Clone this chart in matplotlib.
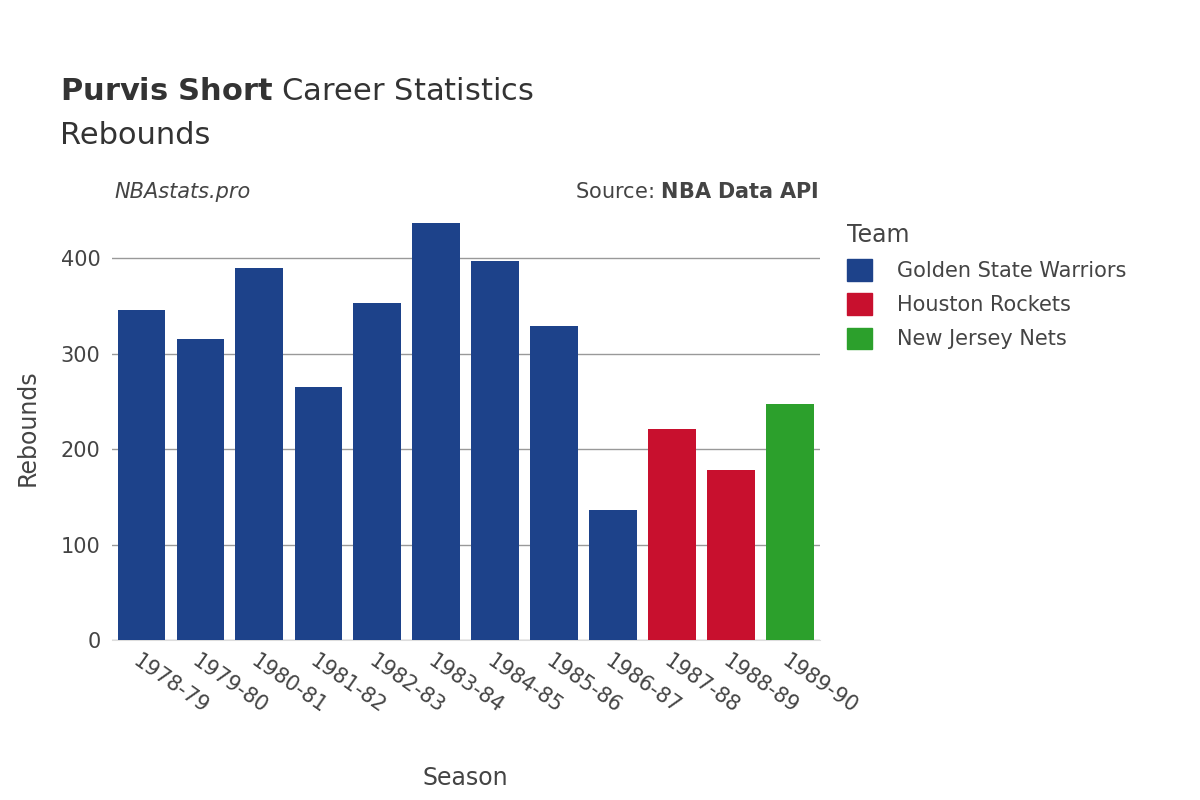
import matplotlib
matplotlib.use("Agg")
import matplotlib.pyplot as plt
from matplotlib.patches import Patch

seasons = ["1978-79","1979-80","1980-81","1981-82","1982-83","1983-84","1984-85","1985-86","1986-87","1987-88","1988-89","1989-90"]
rebounds = [346, 315, 390, 265, 353, 437, 397, 329, 136, 221, 178, 247]
teams = ["Golden State Warriors"]*9 + ["Houston Rockets"]*2 + ["New Jersey Nets"]
team_colors = {"Golden State Warriors": "#1d428a", "Houston Rockets": "#c8102e", "New Jersey Nets": "#2ca02c"}

plt.rcParams["font.family"] = "DejaVu Sans"
fig = plt.figure(figsize=(12, 8), dpi=100)
ax = fig.add_axes([0.093, 0.2, 0.59, 0.531])
x = range(len(seasons))
ax.bar(x, rebounds, width=0.8, color=[team_colors[t] for t in teams], zorder=3)
ax.set_xlim(-0.5, len(seasons) - 0.5)
ax.set_ylim(0, 445)
ax.set_yticks([0, 100, 200, 300, 400])
ax.tick_params(axis="y", labelsize=15, colors="#444444", length=0, pad=8)
ax.set_xticks(list(x))
ax.set_xticklabels(seasons, rotation=-35, ha="left", rotation_mode="anchor", fontsize=15, color="#444444")
ax.tick_params(axis="x", length=0, pad=8)
ax.grid(axis="y", color="#999999", linewidth=1, zorder=0)
for s in ["top", "right", "left"]:
    ax.spines[s].set_visible(False)
ax.spines["bottom"].set_color("#dddddd")
ax.set_xlabel("Season", fontsize=17, color="#444444", labelpad=35)
ax.set_ylabel("Rebounds", fontsize=17, color="#444444", labelpad=15)

fig.text(0.05, 0.875, r"$\bf{Purvis\ Short}$ Career Statistics", fontsize=22, color="#333333")
fig.text(0.05, 0.82, "Rebounds", fontsize=22, color="#333333")
fig.text(0.095, 0.752, "NBAstats.pro", fontsize=15, style="italic", color="#444444")
fig.text(0.682, 0.752, r"Source: $\bf{NBA\ Data\ API}$", fontsize=15, color="#444444", ha="right")

handles = [Patch(color=c, label=t) for t, c in team_colors.items()]
leg = fig.legend(handles=handles, loc="upper left", bbox_to_anchor=(0.69, 0.745), frameon=False,
                 fontsize=15, title="Team", title_fontsize=17, handlelength=1.2, handleheight=1.2,
                 labelspacing=0.6, handletextpad=1.2)
leg._legend_box.align = "left"
for t in leg.get_texts():
    t.set_color("#444444")
leg.get_title().set_color("#444444")

fig.savefig("out.png", dpi=100)
